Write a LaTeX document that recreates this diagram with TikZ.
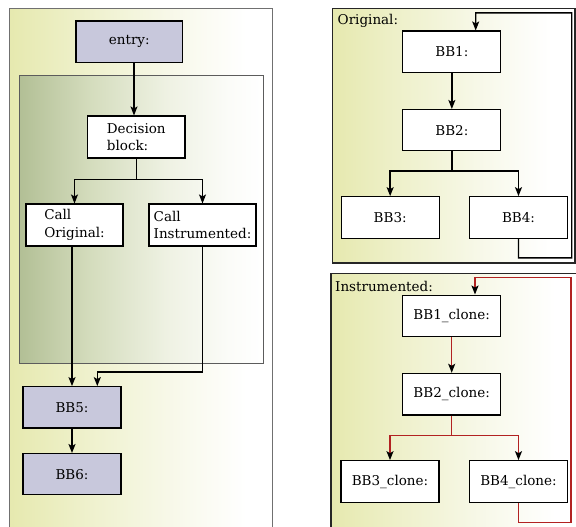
\documentclass[tikz,border=0pt]{standalone}
\usepackage{fontspec}
\setmainfont{DejaVu Serif}
\usetikzlibrary{arrows.meta}

% palette
\definecolor{blockfill}{HTML}{C8C8DC}
\definecolor{ylwA}{HTML}{E6E9AF}
\definecolor{ylwB}{HTML}{EFF1CD}
\definecolor{ylwC}{HTML}{F7F8E8}
\definecolor{grnA}{HTML}{B2BF95}
\definecolor{grnB}{HTML}{D5DDBE}
\definecolor{grnC}{HTML}{EEF1E2}
\definecolor{grnD}{HTML}{FBFCF8}
\definecolor{backedge}{HTML}{B22222}
\definecolor{frameA}{HTML}{707070}
\definecolor{frameB}{HTML}{5C5C5C}

% cluster fills: colour on the left fading to white on the right
\pgfdeclarehorizontalshading{yellowfade}{100bp}{color(0bp)=(ylwA); color(25bp)=(ylwA); color(40bp)=(ylwB); color(55bp)=(ylwC); color(70bp)=(white); color(100bp)=(white)}
\pgfdeclarehorizontalshading{greenfade}{100bp}{color(0bp)=(grnA); color(25bp)=(grnA); color(40bp)=(grnB); color(55bp)=(grnC); color(68bp)=(grnD); color(75bp)=(white); color(100bp)=(white)}

\tikzset{
  txt/.style={font=\fontsize{13.5}{17.3}\selectfont},
  blk/.style={txt, draw=black, line width=1.1pt, fill=white, inner sep=0pt,
              minimum width=98pt, minimum height=41.6pt, align=left},
  hot/.style={blk, fill=blockfill},
  flow/.style={draw=black, line width=1.4pt,
               -{Stealth[length=9pt,width=7pt,inset=2pt]}},
  redflow/.style={draw=backedge, line width=1.4pt,
               -{Stealth[length=9pt,width=7pt,inset=2pt,color=black]}},
  outerframe/.style={draw=frameA, line width=1.4pt, shade, shading=yellowfade},
  innerframe/.style={draw=frameB, line width=1pt, shade, shading=greenfade},
  rightframe/.style={draw=black!85, line width=1.3pt, shade, shading=yellowfade},
  tag/.style={txt, anchor=base west, inner sep=0pt}
}

\begin{document}
\begin{tikzpicture}[x=1pt,y=-1pt]
\useasboundingbox (0,0) rectangle (576,527);
\clip (0,0) rectangle (576,527);

% ---------- left: dispatcher ----------
\path[outerframe] (9.5,8.5) rectangle (272.7,545);
\path[innerframe] (19,76) rectangle (263,363);

\node[hot, minimum width=106.7pt] (entry) at (129.3,41.8) {entry:};
\node[blk, minimum width=97.3pt, minimum height=42pt] (dec) at (136.3,137) {Decision\\block:};
\node[blk, minimum width=97pt, minimum height=42pt] (co) at (74.5,225) {Call\\Original:};
\node[blk, minimum width=107pt, minimum height=42pt] (ci) at (202.5,225) {Call\\Instrumented:};
\node[hot, minimum height=41.3pt] (bb5) at (72,407.3) {BB5:};
\node[hot, minimum height=41.3pt] (bb6) at (72,474.2) {BB6:};

\draw[flow] ([xshift=4.7pt]entry.south) -- ([xshift=-2.3pt]dec.north);
\draw[flow] (dec.south) -- ++(0,21) -| (co.north);
\draw[flow] (dec.south) -- ++(0,21) -| (ci.north);
\draw[flow] (co.south -| bb5.north) -- (bb5.north);
\draw[flow] (ci.south) |- ([xshift=25.3pt,yshift=14pt]bb5.north) -- ([xshift=25.3pt]bb5.north);
\draw[flow] (bb5) -- (bb6);

% ---------- right top: original body ----------
\path[rightframe] (332.3,8.3) rectangle (575,263);
\node[tag] (lblo) at (337.5,24.5) {Original:};

\node[blk, minimum height=41.3pt] (b1) at (451.85,51.65) {BB1:};
\node[blk, minimum height=41.3pt] (b2) at (451.85,130.15) {BB2:};
\node[blk] (b3) at (390.15,217.5) {BB3:};
\node[blk] (b4) at (518.5,217.5) {BB4:};

\draw[flow] (b1) -- (b2);
\draw[flow] (b2.south) -- ++(0,19.7) -| (b3.north);
\draw[flow] (b2.south) -- ++(0,19.7) -| (b4.north);
\draw[flow] (b4.south) -- ++(0,19) -- ++(53.2,0) -- ++(0,-245) -- ++(-96,0)
            -- ([xshift=23.85pt]b1.north);

% ---------- right bottom: instrumented body ----------
\path[rightframe] (331,273.3) rectangle (580,545);
\node[tag] (lbli) at (335,291.5) {Instrumented:};

\node[blk] (c1) at (451.7,315.85) {BB1\_clone:};
\node[blk] (c2) at (451.7,394.15) {BB2\_clone:};
\node[blk, minimum height=42pt] (c3) at (390,481.7) {BB3\_clone:};
\node[blk, minimum height=42pt] (c4) at (518.5,481.7) {BB4\_clone:};

\draw[redflow] (c1) -- (c2);
\draw[redflow] (c2.south) -- ++(0,20) -| (c3.north);
\draw[redflow] (c2.south) -- ++(0,20) -| (c4.north);
\draw[redflow] (c4.south) -- ++(0,19.2) -- ++(52.5,0) -- ++(0,-245) -- ++(-96,0)
            -- ([xshift=23.3pt]c1.north);
\end{tikzpicture}
\end{document}
